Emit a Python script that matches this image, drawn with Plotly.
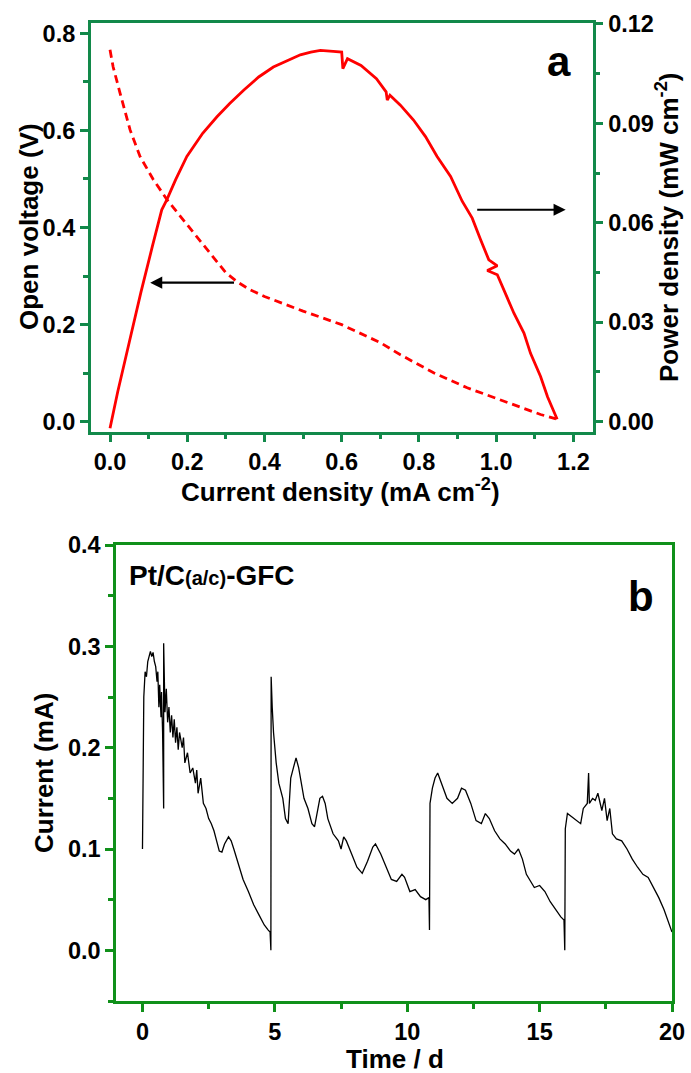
import plotly.graph_objects as go

W, H = 691, 1073

# ---------------- Panel a data ----------------
volt_j = [0.0, 0.008, 0.026, 0.052, 0.078, 0.112, 0.148, 0.2, 0.25, 0.3, 0.33, 0.36, 0.4, 0.5, 0.6,
          0.7, 0.752, 0.838, 0.925, 0.993, 1.055, 1.115, 1.155]
volt_v = [0.766, 0.731, 0.677, 0.601, 0.546, 0.499, 0.457, 0.405, 0.355, 0.307, 0.288, 0.273, 0.258,
          0.228, 0.2, 0.163, 0.138, 0.101, 0.07, 0.05, 0.032, 0.015, 0.006]

pow_j = [0.0, 0.02, 0.05, 0.08, 0.11, 0.134, 0.147, 0.17, 0.199, 0.24, 0.277, 0.31, 0.346, 0.385,
         0.423, 0.46, 0.493, 0.52, 0.545, 0.578, 0.60, 0.603, 0.615, 0.65, 0.69, 0.715, 0.718,
         0.725, 0.752, 0.786, 0.817, 0.847, 0.882, 0.912, 0.938, 0.96, 0.981, 1.003, 0.977,
         1.003, 1.02, 1.046, 1.072, 1.089, 1.115, 1.133, 1.158]
pow_p = [-0.002, 0.009, 0.024, 0.039, 0.053, 0.0639, 0.0669, 0.073, 0.080, 0.087, 0.092, 0.096,
         0.100, 0.104, 0.107, 0.109, 0.1107, 0.1115, 0.112, 0.1117, 0.1115, 0.1065, 0.1095,
         0.1075, 0.1035, 0.0995, 0.097, 0.0985, 0.0955, 0.091, 0.086, 0.080, 0.074, 0.0665,
         0.0614, 0.0548, 0.0488, 0.047, 0.0456, 0.0443, 0.0397, 0.0327, 0.0267, 0.0206, 0.0136,
         0.0075, 0.0007]

# ---------------- Panel b data ----------------
time_d = [0.00, 0.02, 0.05, 0.10, 0.15, 0.20, 0.25, 0.30, 0.35, 0.40, 0.45, 0.50, 0.55, 0.58, 0.62,
          0.65, 0.70, 0.72, 0.76, 0.80, 0.80, 0.82, 0.85, 0.90, 0.95, 1.00, 1.05, 1.10, 1.15, 1.20,
          1.25, 1.30, 1.35, 1.40, 1.50, 1.55, 1.60, 1.70, 1.80, 1.90, 2.00, 2.05, 2.10, 2.20, 2.25,
          2.30, 2.40, 2.50, 2.60, 2.70, 2.80, 2.90, 3.00, 3.10, 3.25, 3.35, 3.45, 3.60, 3.80, 4.00,
          4.20, 4.40, 4.60, 4.75, 4.82, 4.85, 4.86, 4.90, 4.95, 5.05, 5.15, 5.30, 5.40, 5.50, 5.60,
          5.70, 5.80, 5.90, 6.00, 6.10, 6.25, 6.40, 6.50, 6.60, 6.70, 6.80, 6.90, 7.00, 7.20, 7.40,
          7.50, 7.60, 7.70, 7.90, 8.10, 8.30, 8.50, 8.70, 8.80, 9.00, 9.20, 9.40, 9.60, 9.80, 9.90,
          10.10, 10.30, 10.50, 10.70, 10.82, 10.84, 10.86, 10.95, 11.05, 11.15, 11.30, 11.50, 11.70,
          11.90, 12.05, 12.20, 12.40, 12.60, 12.80, 12.95, 13.10, 13.30, 13.50, 13.70, 13.90, 14.05,
          14.20, 14.35, 14.50, 14.65, 14.80, 15.00, 15.20, 15.40, 15.60, 15.80, 15.92, 15.95, 15.97,
          16.05, 16.20, 16.40, 16.55, 16.65, 16.80, 16.85, 16.88, 17.00, 17.10, 17.20, 17.35, 17.45,
          17.55, 17.65, 17.75, 17.90, 18.10, 18.30, 18.50, 18.70, 18.90, 19.10, 19.30, 19.50, 19.70,
          19.85, 20.00]
current_ma = [0.100, 0.180, 0.250, 0.275, 0.270, 0.285, 0.292, 0.295, 0.290, 0.294, 0.285, 0.280,
              0.265, 0.275, 0.240, 0.262, 0.230, 0.255, 0.215, 0.140, 0.303, 0.250, 0.235, 0.258,
              0.225, 0.240, 0.215, 0.232, 0.210, 0.228, 0.205, 0.220, 0.198, 0.215, 0.200, 0.210,
              0.185, 0.195, 0.175, 0.180, 0.165, 0.178, 0.155, 0.170, 0.160, 0.145, 0.140, 0.130,
              0.125, 0.118, 0.108, 0.098, 0.097, 0.105, 0.112, 0.108, 0.100, 0.088, 0.070, 0.058,
              0.045, 0.035, 0.025, 0.020, 0.018, 0.000, 0.270, 0.240, 0.215, 0.185, 0.165, 0.150,
              0.130, 0.125, 0.170, 0.180, 0.190, 0.180, 0.165, 0.150, 0.140, 0.125, 0.122, 0.138,
              0.150, 0.152, 0.145, 0.130, 0.115, 0.108, 0.100, 0.112, 0.108, 0.095, 0.082, 0.076,
              0.088, 0.102, 0.105, 0.095, 0.082, 0.070, 0.068, 0.075, 0.072, 0.058, 0.060, 0.053,
              0.050, 0.052, 0.020, 0.145, 0.160, 0.170, 0.175, 0.165, 0.150, 0.145, 0.150, 0.160,
              0.158, 0.145, 0.128, 0.125, 0.135, 0.130, 0.118, 0.110, 0.105, 0.098, 0.095, 0.100,
              0.090, 0.075, 0.068, 0.062, 0.064, 0.058, 0.048, 0.040, 0.033, 0.030, 0.000, 0.120,
              0.135, 0.132, 0.128, 0.125, 0.140, 0.145, 0.175, 0.145, 0.150, 0.148, 0.155, 0.138,
              0.150, 0.128, 0.140, 0.115, 0.110, 0.108, 0.100, 0.090, 0.082, 0.075, 0.072, 0.062,
              0.052, 0.040, 0.030, 0.018]

top_x_ticks = [0.0, 0.2, 0.4, 0.6, 0.8, 1.0, 1.2]
top_yl_ticks = [0.0, 0.2, 0.4, 0.6, 0.8]
top_yr_ticks = [0.00, 0.03, 0.06, 0.09, 0.12]
bot_x_ticks = [0, 5, 10, 15, 20]
bot_y_ticks = [0.0, 0.1, 0.2, 0.3, 0.4]

GREEN_A = "#12894a"
GREEN_B = "#10901a"
RED = "#ff0000"
FONT = "Liberation Sans"
TICK_SIZE = 23.5
TITLE_SIZE = 26


def px_x(p):
    return p / W


def px_y(p):
    return 1 - p / H


def tfont():
    return dict(family=FONT, size=TICK_SIZE, color="black", weight=700)


def axis(color, rng, tickvals, fmt, minor_dtick, **kw):
    d = dict(range=rng, tickvals=tickvals, tickformat=fmt, ticks="outside", ticklen=8,
             tickwidth=2.5, tickcolor=color, showline=True, linecolor=color, linewidth=2.5,
             showgrid=False, zeroline=False, tickfont=tfont(), automargin=False,
             minor=dict(tick0=0, dtick=minor_dtick, ticks="outside", ticklen=5,
                        tickwidth=2.5, tickcolor=color, showgrid=False))
    d.update(kw)
    return d


fig = go.Figure()
fig.add_trace(go.Scatter(x=volt_j, y=volt_v, mode="lines",
                         line=dict(color=RED, width=2.8, dash="8px,5px"),
                         xaxis="x", yaxis="y", showlegend=False))
fig.add_trace(go.Scatter(x=pow_j, y=pow_p, mode="lines",
                         line=dict(color=RED, width=2.8),
                         xaxis="x", yaxis="y2", showlegend=False))
fig.add_trace(go.Scatter(x=time_d, y=current_ma, mode="lines",
                         line=dict(color="black", width=1.3),
                         xaxis="x2", yaxis="y3", showlegend=False))

top_dom_x = [px_x(90.7), px_x(592.7)]
top_dom_y = [px_y(431.5), px_y(23.3)]
bot_dom_x = [px_x(116), px_x(672)]
bot_dom_y = [px_y(1001), px_y(545)]

fig.update_layout(
    width=W, height=H, template="none",
    font=dict(family=FONT, size=TICK_SIZE, color="black", weight=700),
    margin=dict(l=0, r=0, t=0, b=0),
    paper_bgcolor="white", plot_bgcolor="white",
    xaxis=axis(GREEN_A, [-0.05, 1.25], top_x_ticks, ".1f", 0.1,
               domain=top_dom_x, anchor="y", mirror=True),
    yaxis=axis(GREEN_A, [-0.02, 0.8206], top_yl_ticks, ".1f", 0.1,
               domain=top_dom_y, anchor="x"),
    yaxis2=axis(GREEN_A, [-0.003, 0.1202], top_yr_ticks, ".2f", 0.015,
                overlaying="y", side="right", anchor="x"),
    xaxis2=axis(GREEN_B, [-1, 20], bot_x_ticks, "d", 2.5,
                domain=bot_dom_x, anchor="y3", mirror=True),
    yaxis3=axis(GREEN_B, [-0.05, 0.4], bot_y_ticks, ".1f", 0.05,
                domain=bot_dom_y, anchor="x2", mirror=True),
)
fig.update_xaxes(tickfont=tfont())
fig.update_yaxes(tickfont=tfont())


def label(text, x, y, size=TITLE_SIZE, angle=0, xanchor="center"):
    return dict(text=text, x=px_x(x), y=px_y(y), xref="paper", yref="paper",
                xanchor=xanchor, yanchor="middle", textangle=angle, showarrow=False,
                font=dict(family=FONT, size=size, color="black", weight=700))


ann = [
    label("Current density (mA cm<sup>-2</sup>)", 340, 490),
    label("Open voltage (V)", 29, 227, angle=-90),
    label("Power density (mW cm<sup>-2</sup>)", 668, 228, angle=-90),
    label("Current (mA)", 44, 773, angle=-90),
    label("Time / d", 395, 1059),
    label("a", 559, 62, size=42),
    label("b", 641, 596, size=42),
    label("Pt/C<span style='font-size:20px'>(a/c)</span>-GFC", 127, 575, size=28, xanchor="left"),
    dict(x=0.104, y=0.2865, ax=0.325, ay=0.2865, xref="x", yref="y", axref="x", ayref="y",
         text="", showarrow=True, arrowhead=2, arrowsize=1.1, arrowwidth=2.2, arrowcolor="black"),
    dict(x=1.18, y=0.4366, ax=0.947, ay=0.4366, xref="x", yref="y", axref="x", ayref="y",
         text="", showarrow=True, arrowhead=2, arrowsize=1.1, arrowwidth=2.2, arrowcolor="black"),
]
fig.update_layout(annotations=ann)

fig.write_html("out.html")
